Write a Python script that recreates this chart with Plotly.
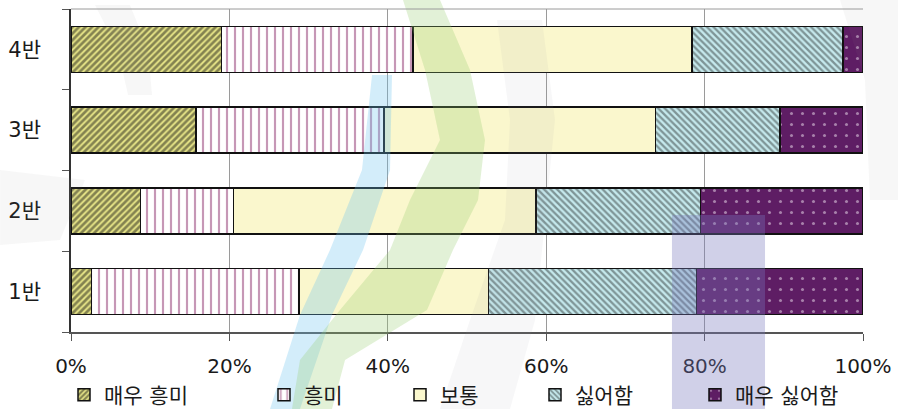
import plotly.graph_objects as go

# Class labels (bottom to top) and response categories
classes = ["1반", "2반", "3반", "4반"]
responses = ["매우 흥미", "흥미", "보통", "싫어함", "매우 싫어함"]

# Share of each response per class (%)
very_interested = [2.6, 8.8, 15.8, 19.0]
interested = [26.2, 11.7, 23.7, 24.2]
neutral = [23.9, 38.2, 34.3, 35.2]
dislike = [26.3, 20.8, 15.7, 19.1]
strongly_dislike = [21.0, 20.5, 10.5, 2.5]

x_tick_values = [0, 20, 40, 60, 80, 100]
x_tick_labels = ["0%", "20%", "40%", "60%", "80%", "100%"]

series = [very_interested, interested, neutral, dislike, strongly_dislike]

styles = [
    dict(color="#E4E286", pattern=dict(shape="/", fgcolor="#222219", bgcolor="#E4E286", size=4.6, solidity=0.58)),
    dict(color="#FFFFFF", pattern=dict(shape="|", fgcolor="#8E2F6E", bgcolor="#FFFFFF", size=8, solidity=0.27)),
    dict(color="#FAF7CD"),
    dict(color="#C6EAEE", pattern=dict(shape="\\", fgcolor="#36403f", bgcolor="#C6EAEE", size=4.6, solidity=0.5)),
    dict(color="#5E1D64", pattern=dict(shape=".", fgcolor="#F2E6F2", bgcolor="#5E1D64", size=11, solidity=0.06)),
]

legend_names = ["legend", "legend2", "legend3", "legend4", "legend5"]
legend_x = [64, 264, 400, 535, 695]

W, H = 898, 409
L, R, T, B = 71, 35, 9, 77
font_family = "DejaVu Sans, Noto Sans CJK KR, sans-serif"

fig = go.Figure()
for name, vals, st, lg in zip(responses, series, styles, legend_names):
    fig.add_trace(go.Bar(
        y=classes, x=vals, name=name, orientation="h",
        marker=dict(line=dict(color="#111111", width=1.5), **st),
        legend=lg, showlegend=True,
    ))

layout_legends = {}
for lg, lx in zip(legend_names, legend_x):
    layout_legends[lg] = dict(
        orientation="h", xref="container", yref="container",
        x=lx / W, y=1 - 395 / H, xanchor="left", yanchor="middle",
        font=dict(family=font_family, size=21, color="#1a1a1a"),
        bgcolor="rgba(0,0,0,0)", borderwidth=0, visible=True,
    )


# Faint background logo (watermark), given in page pixels
def to_paper(pts):
    pw, ph = W - L - R, H - T - B
    return [((x - L) / pw, (H - B - y) / ph) for x, y in pts]


def band(left_edge, right_edge):
    pts = to_paper(left_edge + right_edge[::-1])
    return "M" + " L".join(f"{x:.4f},{y:.4f}" for x, y in pts) + " Z"


mark_shapes = [
    dict(path=band([(372, 75), (362, 170), (330, 250), (300, 315), (270, 409)],
                   [(392, 75), (390, 170), (363, 250), (332, 315), (300, 409)]),
         fillcolor="rgba(110,195,240,0.30)"),
    dict(path=band([(403, 0), (425, 70), (440, 140), (410, 200), (390, 250), (340, 310), (300, 360), (292, 409)],
                   [(440, 0), (470, 70), (485, 140), (478, 200), (453, 250), (427, 310), (345, 360), (332, 409)]),
         fillcolor="rgba(150,205,110,0.28)"),
    dict(path=band([(497, 20), (510, 120), (505, 220), (470, 320), (440, 409)],
                   [(542, 20), (555, 120), (545, 220), (535, 320), (510, 409)]),
         fillcolor="rgba(150,150,165,0.08)"),
    dict(path=band([(672, 215), (672, 409)], [(765, 215), (765, 409)]),
         fillcolor="rgba(120,120,190,0.35)"),
    dict(path=band([(0, 170), (0, 245)], [(85, 180), (60, 240)]),
         fillcolor="rgba(140,140,140,0.07)"),
    dict(path=band([(95, 5), (118, 50), (128, 95)], [(130, 5), (148, 50), (152, 95)]),
         fillcolor="rgba(140,140,140,0.07)"),
    dict(path=band([(840, 0), (865, 80), (870, 200)], [(898, 0), (898, 80), (898, 200)]),
         fillcolor="rgba(140,140,140,0.07)"),
]
shapes = [dict(type="path", xref="paper", yref="paper", layer="above",
               line=dict(width=0), **s) for s in mark_shapes]
shapes.append(dict(type="line", xref="paper", yref="paper", x0=0, x1=1, y0=1, y1=1,
                   line=dict(color="#9a9a9a", width=1)))

fig.update_layout(
    width=W, height=H,
    margin=dict(l=L, r=R, t=T, b=B, autoexpand=False),
    barmode="stack", bargap=0.43,
    showlegend=True,
    paper_bgcolor="white", plot_bgcolor="white",
    font=dict(family=font_family, size=20, color="#1a1a1a"),
    xaxis=dict(
        range=[0, 100], tickvals=x_tick_values, ticktext=x_tick_labels,
        showgrid=True, gridcolor="#9a9a9a", gridwidth=1,
        showline=True, linecolor="#555555", linewidth=1.5,
        ticks="outside", ticklen=7, tickcolor="#555555",
        ticklabelstandoff=8, automargin=False,
        zeroline=False, fixedrange=True,
        tickfont=dict(family=font_family, size=20),
    ),
    yaxis=dict(
        type="category", categoryorder="array", categoryarray=classes,
        range=[-0.5, 3.5], tickson="boundaries",
        showgrid=False, showline=True, linecolor="#333333", linewidth=1.5,
        ticks="outside", ticklen=7, tickcolor="#555555",
        ticklabelstandoff=24, automargin=False,
        tickfont=dict(family=font_family, size=21),
    ),
    shapes=shapes,
    **layout_legends,
)

fig.write_html("out.html")
